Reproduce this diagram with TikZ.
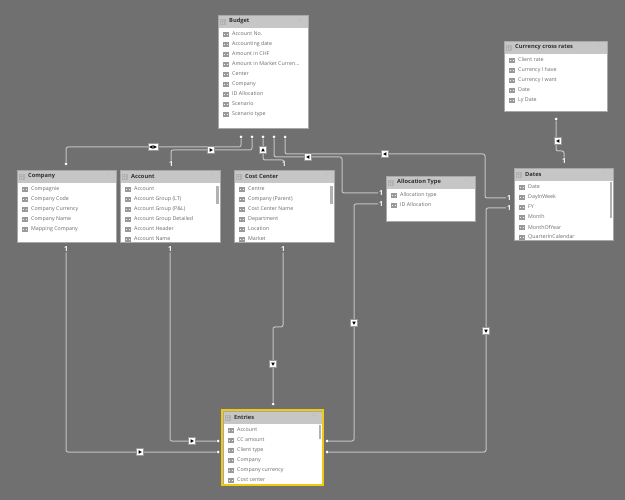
\documentclass[tikz,border=0pt]{standalone}
\usepackage{fontspec}
\setmainfont{Open Sans}
\usetikzlibrary{calc}
\definecolor{bg}{HTML}{707070}
\definecolor{hdr}{HTML}{C6C6C6}
\definecolor{itemtxt}{HTML}{6A6A6A}
\definecolor{hdrtxt}{HTML}{303030}
\definecolor{connc}{HTML}{C4C4C4}
\definecolor{pbiyellow}{HTML}{F2C811}
\definecolor{tborder}{HTML}{A8A8A8}

\tikzset{
  tbody/.style={fill=white, inner sep=0pt, outer sep=0pt},
  thead/.style={fill=hdr, inner sep=0pt, outer sep=0pt},
  htext/.style={font=\fontsize{5.7}{6}\selectfont\bfseries, text=hdrtxt, inner sep=0pt, anchor=west},
  itext/.style={font=\fontsize{5.3}{6}\selectfont, text=itemtxt, inner sep=0pt, anchor=west},
  hdots/.style={font=\fontsize{6}{6}\selectfont, text=black!30, inner sep=0pt},
  conn/.style={draw=connc, line width=1pt, rounded corners=2pt},
  one/.style={font=\fontsize{7}{7}\selectfont\bfseries, text=white, inner sep=0.8pt},
  mdot/.style={circle, fill=white, inner sep=0pt, minimum size=3pt},
  fbox/.style={draw=black!40, fill=white, minimum width=7pt, minimum height=7pt, inner sep=0pt, line width=0.3pt},
  ficon/.pic={
    \draw[draw=black!40, fill=black!5, line width=0.3pt] (-2.4,-2.2) rectangle (2.4,2.2);
    \draw[draw=black!40, line width=0.3pt] (-2.4,-0.7) -- (2.4,-0.7) (-2.4,0.7) -- (2.4,0.7) (-0.8,-2.2) -- (-0.8,2.2) (0.8,-2.2) -- (0.8,2.2);
  },
  hicon/.pic={
    \draw[draw=black!30, line width=0.3pt] (-2.4,-2.2) rectangle (2.4,2.2);
    \draw[draw=black!30, line width=0.3pt] (-2.4,-0.7) -- (2.4,-0.7) (-0.8,-2.2) -- (-0.8,2.2) (0.8,-2.2) -- (0.8,2.2);
  },
}

% name, left, top, width, height, title, items
\newcommand{\dtable}[7]{%
  \node[tbody, anchor=north west, minimum width=#4, minimum height=#5] (#1) at (#2,#3) {};
  \begin{scope}
    \clip (#1.north west) rectangle (#1.south east);
    \node[thead, anchor=north west, minimum width=#4, minimum height=13] (#1-h) at (#1.north west) {};
    \pic at ($(#1-h.west)+(5,0)$) {hicon};
    \node[htext] (#1-t) at ($(#1-h.west)+(11,0)$) {#6};
    \node[hdots] (#1-m) at ($(#1-h.east)+(-8,-1)$) {...};
    \foreach \t [count=\i] in {#7} {
      \pic at ($(#1.north west)+(7.5,{19+10*(\i-1)})$) {ficon};
      \node[itext] (#1-\i) at ($(#1.north west)+(14,{19+10*(\i-1)})$) {\t};
    }
  \end{scope}
  \draw[draw=tborder, line width=0.5pt] (#1.north west) rectangle (#1.south east);
}
\newcommand{\sbar}[3]{\fill[black!30] (#1,#2) rectangle ++(2.5,#3);}

\newcommand{\mkR}[2]{\node[fbox] (#1) at (#2) {}; \fill ($(#1)+(-1.4,-1.8)$) -- ($(#1)+(1.8,0)$) -- ($(#1)+(-1.4,1.8)$) -- cycle;}
\newcommand{\mkL}[2]{\node[fbox] (#1) at (#2) {}; \fill ($(#1)+(1.4,-1.8)$) -- ($(#1)+(-1.8,0)$) -- ($(#1)+(1.4,1.8)$) -- cycle;}
\newcommand{\mkU}[2]{\node[fbox] (#1) at (#2) {}; \fill ($(#1)+(-1.8,1.4)$) -- ($(#1)+(0,-1.8)$) -- ($(#1)+(1.8,1.4)$) -- cycle;}
\newcommand{\mkD}[2]{\node[fbox] (#1) at (#2) {}; \fill ($(#1)+(-1.8,-1.4)$) -- ($(#1)+(0,1.8)$) -- ($(#1)+(1.8,-1.4)$) -- cycle;}
\newcommand{\mkB}[2]{\node[fbox, minimum width=10.5pt] (#1) at (#2) {};
  \fill ($(#1)+(-0.4,-1.8)$) -- ($(#1)+(-3.8,0)$) -- ($(#1)+(-0.4,1.8)$) -- cycle;
  \fill ($(#1)+(0.4,-1.8)$) -- ($(#1)+(3.8,0)$) -- ($(#1)+(0.4,1.8)$) -- cycle;}

\begin{document}
\begin{tikzpicture}[x=1pt, y=-1pt]
\useasboundingbox[fill=bg] (0,0) rectangle (625,500);

% ---------- connectors ----------
\node[mdot] (b1) at (241,137) {};
\node[mdot] (b2) at (252,137) {};
\node[mdot] (b3) at (263,137) {};
\node[mdot] (b4) at (274,137) {};
\node[mdot] (b5) at (285,137) {};
\node[mdot] (cdot) at (66,164) {};
\node[mdot] (curdot) at (556,119) {};
\node[mdot] (etop) at (273,404) {};
\node[mdot] (el1) at (218,441) {};
\node[mdot] (el2) at (218,452) {};
\node[mdot] (er1) at (327,441) {};
\node[mdot] (er2) at (327,452) {};

\node[one] (oAt) at (171,164) {1};
\node[one] (oCt) at (284,164) {1};
\node[one] (oAT1) at (381,193) {1};
\node[one] (oAT2) at (381,204) {1};
\node[one] (oD1) at (509,198) {1};
\node[one] (oD2) at (509,208) {1};
\node[one] (oDt) at (564,161) {1};
\node[one] (oCo) at (66,249) {1};
\node[one] (oAc) at (170,249) {1};
\node[one] (oCb) at (283,249) {1};

\draw[conn] (b1) -- (241,147) -- (66,147) -- (cdot);
\draw[conn] (b2) -- (252,150) -- (171,150) -- (oAt);
\draw[conn] (b3) -- (263,160) -- (284,160) -- (oCt);
\draw[conn] (b4) -- (274,157) -- (342,157) -- (342,193) -- (oAT1);
\draw[conn] (b5) -- (285,154) -- (485,154) -- (485,198) -- (oD1);
\draw[conn] (er1) -- (354,441) -- (354,204) -- (oAT2);
\draw[conn] (er2) -- (486,452) -- (486,208) -- (oD2);
\draw[conn] (curdot) -- (556,151) -- (564,151) -- (oDt);
\draw[conn] (oCo) -- (66,452) -- (el2);
\draw[conn] (oAc) -- (170,441) -- (el1);
\draw[conn] (oCb) -- (283,327) -- (273,327) -- (etop);

\mkB{m1}{153,147}
\mkR{m2}{211,150}
\mkU{m3}{263,150}
\mkL{m4}{308,157}
\mkL{m5}{385,154}
\mkD{m6}{354,323}
\mkD{m7}{486,331}
\mkL{m8}{558,141}
\mkR{m9}{140,452}
\mkR{m10}{192,441}
\mkD{m11}{273,364}

% ---------- tables ----------
\dtable{budget}{218}{15}{90}{113}{Budget}{Account No.,Accounting date,Amount in CHF,Amount in Market Curren\ldots,Center,Company,ID Allocation,Scenario,Scenario type}
\dtable{cur}{504}{41}{103}{70}{Currency cross rates}{Client rate,Currency I have,Currency I want,Date,Ly Date}
\dtable{company}{17}{170}{99}{72}{Company}{Compagnie,Company Code,Company Currency,Company Name,Mapping Company}
\dtable{account}{120}{170}{100}{72}{Account}{Account,Account Group (LT),Account Group (P\&L),Account Group Detailed,Account Header,Account Name}
\sbar{216}{186}{18}
\dtable{costc}{234}{170}{100}{72}{Cost Center}{Centre,Company (Parent),Cost Center Name,Department,Location,Market}
\sbar{330}{186}{18}
\dtable{alloc}{386}{176}{89}{45}{Allocation Type}{Allocation type,ID Allocation}
\dtable{dates}{514}{168}{99}{72}{Dates}{Date,DayInWeek,FY,Month,MonthOfYear,QuarterInCalendar}
\sbar{609.5}{182}{36}
\dtable{entries}{223}{411}{99}{73}{Entries}{Account,CC amount,Client type,Company,Company currency,Cost center}
\sbar{318.5}{425}{14}
\draw[draw=pbiyellow, line width=2pt] ($(entries.north west)+(-1,-1)$) rectangle ($(entries.south east)+(1,1)$);
\end{tikzpicture}
\end{document}
